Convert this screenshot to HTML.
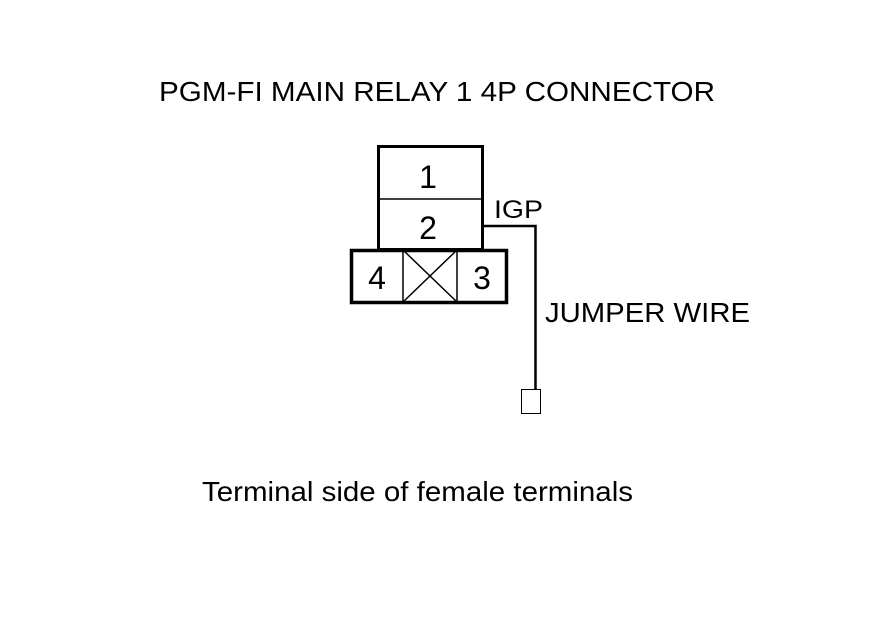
<!DOCTYPE html>
<html><head><meta charset="utf-8"><style>html,body{margin:0;padding:0;background:#fff}svg{display:block}</style></head>
<body>
<svg width="880" height="630" viewBox="0 0 880 630" xmlns="http://www.w3.org/2000/svg" font-family="Liberation Sans, Arial, sans-serif" fill="#000">
<rect width="880" height="630" fill="#fff"/>
<text x="159" y="101" font-size="28" textLength="556" lengthAdjust="spacingAndGlyphs">PGM-FI MAIN RELAY 1 4P CONNECTOR</text>
<g fill="none" stroke="#000">
<rect x="378.5" y="146.5" width="104" height="103" stroke-width="3"/>
<line x1="378" y1="199" x2="483" y2="199" stroke-width="1.5"/>
<rect x="351.5" y="250.5" width="155" height="52" stroke-width="3.5"/>
<line x1="403" y1="250" x2="403" y2="302" stroke-width="1.5"/>
<line x1="457" y1="250" x2="457" y2="302" stroke-width="1.5"/>
<line x1="403" y1="250" x2="457" y2="302" stroke-width="1.5"/>
<line x1="457" y1="250" x2="403" y2="302" stroke-width="1.5"/>
<polyline points="483,226 535.5,226 535.5,390" stroke-width="2.5"/>
<rect x="521.5" y="389.5" width="19" height="24" stroke-width="1"/>
</g>
<text x="428" y="188" font-size="32" text-anchor="middle">1</text>
<text x="428" y="239" font-size="32" text-anchor="middle">2</text>
<text x="377" y="289" font-size="32" text-anchor="middle">4</text>
<text x="482" y="289" font-size="32" text-anchor="middle">3</text>
<text x="494" y="218" font-size="25" textLength="49" lengthAdjust="spacingAndGlyphs">IGP</text>
<text x="545" y="322" font-size="28" textLength="205" lengthAdjust="spacingAndGlyphs">JUMPER WIRE</text>
<text x="202" y="501" font-size="28" textLength="431" lengthAdjust="spacingAndGlyphs">Terminal side of female terminals</text>
</svg>
</body></html>
